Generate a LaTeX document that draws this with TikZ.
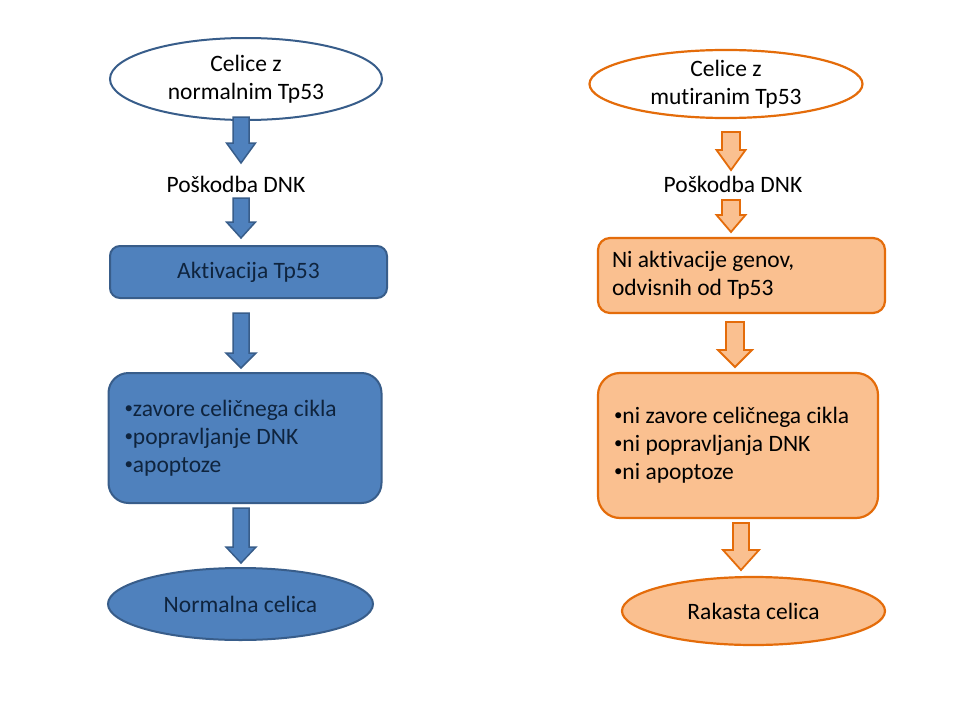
\documentclass[tikz,border=0pt]{standalone}
\usepackage{fontspec}
\setmainfont{Carlito}[Ligatures=CommonOff]
\usetikzlibrary{shapes.geometric,calc}
\definecolor{bfill}{HTML}{4F81BD}
\definecolor{bline}{HTML}{385D8A}
\definecolor{btext}{HTML}{0F243E}
\definecolor{ofill}{HTML}{FAC090}
\definecolor{oline}{HTML}{E46C0A}
\newcommand\bul{\raisebox{0.12em}{\fontsize{17}{17}\selectfont •}}
% style, start, tip, half shaft, half head, head length
\newcommand\blockarr[6]{\draw[#1] let \p1=(#2), \p2=(#3) in
  (\x1-#4,\y1) -- (\x1+#4,\y1) -- (\x1+#4,\y2+#6) -- (\x1+#5,\y2+#6) --
  (\x1,\y2) -- (\x1-#5,\y2+#6) -- (\x1-#4,\y2+#6) -- cycle;}
\begin{document}
\begin{tikzpicture}[x=1pt,y=-1pt,
  txt/.style={font=\fontsize{23.5}{28}\selectfont},
  bshape/.style={txt,draw=bline,fill=bfill,line width=2pt,text=btext,inner sep=0pt},
  oshape/.style={txt,draw=oline,fill=ofill,line width=2.2pt,text=black,inner sep=0pt},
  bellipse/.style={bshape,ellipse,align=center},
  oellipse/.style={oshape,ellipse,align=center},
  barrowst/.style={draw=bline,fill=bfill,line width=1.5pt,line join=miter},
  oarrowst/.style={draw=oline,fill=ofill,line width=1.8pt,line join=miter},
  plain/.style={txt,text=black,inner sep=0pt}]
\useasboundingbox[fill=white] (0,0) rectangle (956,717);

% left column
\node[bellipse,fill=white,text=black,minimum width=272,minimum height=82] (L1) at (246,79) {Celice z\\normalnim Tp53};
\node[plain] (LP) at (236,184) {Poškodba DNK};
\node[bshape,rectangle,rounded corners=10pt,minimum width=277,minimum height=52] (L2) at (248.5,272) {Aktivacija Tp53};
\node[bshape,rectangle,rounded corners=20pt,minimum height=130,inner xsep=16pt,align=left] (L3) at (245,438)
  {\makebox[241pt][l]{\bul zavore celičnega cikla}\\\bul popravljanje DNK\\\bul apoptoze};
\node[bellipse,minimum width=265,minimum height=72] (L4) at (240.5,604) {Normalna celica};

% right column
\node[oellipse,fill=white,minimum width=273,minimum height=68] (R1) at (726,84) {Celice z\\mutiranim Tp53};
\node[plain] (RP) at (733,184) {Poškodba DNK};
\node[oshape,rectangle,rounded corners=12pt,minimum height=75,inner xsep=14pt,align=left] (R2) at (741.5,275.5)
  {\makebox[259pt][l]{Ni aktivacije genov,}\\odvisnih od Tp53};
\node[oshape,rectangle,rounded corners=22pt,minimum height=145,inner xsep=16pt,align=left] (R3) at (738,445.5)
  {\makebox[248pt][l]{\bul ni zavore celičnega cikla}\\\bul ni popravljanja DNK\\\bul ni apoptoze};
\node[oellipse,minimum width=263,minimum height=68] (R4) at (753.5,611) {Rakasta celica};

% arrow end points
\coordinate (a1s) at (241,117);  \coordinate (a1e) at (241,163);
\coordinate (a2s) at (241,198);  \coordinate (a2e) at (241,238);
\coordinate (a3s) at (241,313);  \coordinate (a3e) at (241,368);
\coordinate (a4s) at (241,508);  \coordinate (a4e) at (241,563);
\coordinate (b1s) at (731,132);  \coordinate (b1e) at (731,170);
\coordinate (b2s) at (731,200);  \coordinate (b2e) at (731,232);
\coordinate (b3s) at (735,322);  \coordinate (b3e) at (735,367);
\coordinate (b4s) at (741,523);  \coordinate (b4e) at (741,570);

\blockarr{barrowst}{a1s}{a1e}{8pt}{14.5pt}{20pt}
\blockarr{barrowst}{a2s}{a2e}{8pt}{14.5pt}{16pt}
\blockarr{barrowst}{a3s}{a3e}{8pt}{15pt}{15pt}
\blockarr{barrowst}{a4s}{a4e}{8pt}{15pt}{16pt}
\blockarr{oarrowst}{b1s}{b1e}{9pt}{14.5pt}{20pt}
\blockarr{oarrowst}{b2s}{b2e}{9pt}{14.5pt}{17pt}
\blockarr{oarrowst}{b3s}{b3e}{9pt}{17pt}{17pt}
\blockarr{oarrowst}{b4s}{b4e}{8pt}{18pt}{20pt}
\end{tikzpicture}
\end{document}
